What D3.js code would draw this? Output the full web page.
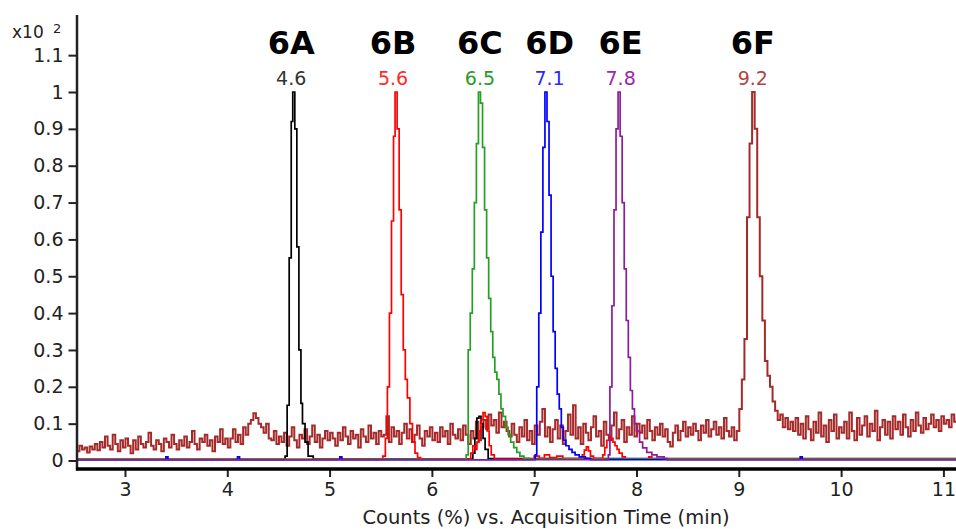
<!DOCTYPE html>
<html><head><meta charset="utf-8">
<script src="https://cdn.jsdelivr.net/npm/d3@7/dist/d3.min.js"></script>
<style>html,body{margin:0;padding:0;background:#fff;overflow:hidden}</style>
</head><body><svg id="c" width="956" height="529"></svg>
<script>
// ---------- data ----------
const xTicks = [3, 4, 5, 6, 7, 8, 9, 10, 11];
const yTicks = [0, 10, 20, 30, 40, 50, 60, 70, 80, 90, 100, 110];
const yTickLabels = ["0", "0.1", "0.2", "0.3", "0.4", "0.5", "0.6", "0.7", "0.8", "0.9", "1", "1.1"];
const xTitle = "Counts (%) vs. Acquisition Time (min)";

// 6F trace (counts %), sampled from 2.53 min every 0.025 min
const brownStart = 2.53, brownStep = 0.025;
const brownValues = [
  2.5, 4.0, 3.0, 3.5, 2.2, 3.8, 3.0, 4.5, 2.8, 5.0, 3.5, 6.5, 4.0, 3.0, 7.0, 4.5, 2.5, 5.5, 3.5, 6.0,
  4.0, 2.0, 5.5, 3.0, 6.5, 4.5, 3.5, 5.0, 7.5, 4.0, 3.0, 5.5, 4.5, 2.5, 6.0, 5.0, 3.5, 7.0, 4.5, 3.0,
  5.5, 4.0, 6.5, 3.5, 5.0, 8.0, 4.5, 3.0, 6.0, 5.0, 7.0, 4.0, 5.5, 2.5, 6.5, 5.0, 8.5, 4.5, 6.0, 3.5,
  6.0, 8.5, 5.0, 7.0, 4.5, 9.0, 7.0, 10.0, 11.0, 12.8, 11.5, 10.0, 9.0, 7.5, 10.0, 6.0, 5.5, 8.0, 4.5, 6.5,
  5.0, 7.5, 4.0, 6.5, 9.0, 5.5, 3.5, 7.0, 6.0, 8.5, 4.5, 6.5, 9.5, 5.0, 7.0, 3.5, 6.0, 8.0, 5.5, 7.5,
  6.0, 4.0, 7.5, 5.5, 9.0, 6.5, 4.5, 8.0, 6.0, 7.0, 3.5, 8.5, 6.5, 5.0, 9.5, 6.0, 7.5, 4.5, 8.0, 6.5,
  7.0, 12.0, 5.0, 9.0, 6.5, 8.0, 4.5, 7.5, 10.0, 6.0, 8.5, 5.0, 7.0, 9.5, 6.0, 4.0, 8.0, 6.5, 9.0, 5.5,
  7.5, 5.0, 9.0, 6.5, 8.0, 4.5, 10.0, 7.0, 6.0, 8.5, 5.5, 9.5, 7.0, 4.5, 8.0, 6.0, 10.5, 5.5, 9.0, 11.0,
  8.5, 12.5, 9.5, 11.0, 7.5, 13.0, 9.0, 10.5, 8.0, 6.5, 10.0, 7.0, 5.0, 9.0, 6.5, 11.0, 5.5, 8.0, 4.5, 9.5,
  7.0, 10.5, 14.0, 6.5, 9.0, 5.0, 8.5, 11.0, 6.0, 9.5, 4.5, 8.0, 12.5, 7.0, 15.0, 6.0, 9.0, 4.5, 10.0, 7.5,
  5.5, 9.0, 12.0, 6.5, 8.0, 4.0, 10.5, 7.0, 5.5, 9.5, 13.0, 6.0, 8.5, 11.0, 5.0, 9.0, 7.0, 12.0, 6.5, 10.0,
  7.5, 9.5, 6.0, 11.0, 8.0, 5.5, 9.0, 7.0, 10.0, 6.5, 8.5, 5.0, 3.8, 7.5, 9.5, 5.5, 8.0, 10.5, 6.5, 9.0,
  7.0, 10.0, 8.0, 5.5, 9.5, 7.5, 11.0, 6.5, 8.5, 10.5, 7.0, 9.0, 6.0, 11.5, 8.0, 6.5, 9.0, 5.5, 8.0, 14.0,
  22, 33, 66, 86, 100, 90, 66, 50, 38, 27, 23, 20, 16, 13.5, 11, 12.5, 9, 11.5, 8.5, 10.5,
  8.0, 11.5, 7.0, 10.0, 6.0, 12.0, 8.5, 5.5, 10.5, 7.5, 13.0, 6.5, 9.5, 5.0, 11.0, 8.0, 12.5, 6.0, 9.0, 7.5,
  10.5, 6.0, 13.0, 8.0, 5.5, 11.5, 7.0, 9.5, 12.0, 6.5, 10.0, 8.0, 13.5, 5.5, 9.0, 11.0, 7.0, 10.5, 6.0, 12.0,
  8.5, 10.5, 7.0, 12.5, 9.0, 6.5, 11.0, 8.0, 13.0, 9.5, 7.5, 11.5, 8.5, 10.0, 12.5, 9.0, 11.0, 8.0, 12.0, 10.0,
  11.0, 9.0, 12.5, 10.5, 11.5
];

// [time (min), counts (%)]
const trace6A = [[2.53,0.3],[4.54,0.3],[4.565,1.2],[4.585,15],[4.605,55],[4.625,92],[4.64,100],[4.66,90],[4.68,58],[4.70,30],[4.72,15.5],[4.735,10],[4.76,5],[4.79,1.2],[4.84,0.4],
  [6.38,0.4],[6.40,2],[6.42,6],[6.44,11.5],[6.46,12],[6.48,10],[6.50,6],[6.52,3],[6.55,0.5],[11.13,0.3]];
const trace6B = [[2.53,0.3],[5.50,0.3],[5.52,1.2],[5.545,6],[5.565,20],[5.585,40],[5.605,65],[5.625,88],[5.64,100],[5.66,90],[5.68,68],[5.70,45],[5.72,30],[5.74,22],[5.76,17],[5.785,10],[5.81,5],[5.835,2],[5.86,0.8],[5.89,0.4],
  [6.36,0.4],[6.38,2],[6.40,4],[6.42,3],[6.44,5],[6.46,8],[6.48,11],[6.50,13],[6.52,12],[6.54,8],[6.56,4],[6.58,1.5],[6.61,0.4],
  [6.98,0.4],[7.0,1.2],[7.05,0.6],[7.10,1.5],[7.15,0.8],[7.22,1.2],[7.28,0.5],
  [7.44,0.5],[7.47,1.5],[7.49,2.8],[7.51,3.7],[7.53,2.6],[7.55,1.2],[7.58,0.6],
  [7.64,0.6],[7.67,1.5],[7.69,3.5],[7.71,5.5],[7.73,6.4],[7.75,6.0],[7.77,5.0],[7.79,4.0],[7.81,3.0],[7.83,2.0],[7.86,1.0],[7.89,0.4],
  [8.10,0.4],[8.12,1.0],[8.15,0.4],[11.13,0.3]];
const trace6C = [[2.53,0.3],[6.30,0.3],[6.335,1.5],[6.355,30],[6.375,40],[6.395,52],[6.415,70],[6.435,86],[6.455,100],[6.475,97],[6.495,85],[6.515,68],[6.535,55],[6.555,44],[6.575,35],[6.595,28],[6.615,24],[6.635,22],[6.655,18],[6.675,14],[6.695,12],[6.72,9],[6.745,7],[6.77,5],[6.80,3.5],[6.83,2.2],[6.86,1.2],[6.90,0.6],[6.95,0.4],[11.13,0.3]];
const trace6D = [[2.53,0.2],[3.40,1.0],[3.42,0.2],[4.10,1.0],[4.12,0.2],[5.10,1.0],[5.12,0.2],[6.98,0.2],[7.01,1.5],[7.025,20],[7.045,40],[7.065,62],[7.085,85],[7.105,100],[7.125,92],[7.145,72],[7.165,50],[7.185,35],[7.205,25],[7.225,18],[7.245,14],[7.265,9],[7.285,5.5],[7.31,4],[7.34,3],[7.37,2.2],[7.40,1.5],[7.44,1],[7.50,0.6],[7.55,0.2],[9.60,1.0],[9.62,0.2],[11.13,0.2]];
const trace6E = [[2.53,0.2],[7.69,0.2],[7.725,1.5],[7.74,20],[7.76,42],[7.78,68],[7.80,90],[7.82,100],[7.84,88],[7.86,70],[7.88,52],[7.90,38],[7.92,28],[7.94,19],[7.96,14],[7.98,10],[8.00,8],[8.03,5],[8.06,3.4],[8.10,2.2],[8.15,1.5],[8.20,1],[8.27,0.5],[8.30,0.2],[11.13,0.2]];

const peakNames = ["6A", "6B", "6C", "6D", "6E", "6F"];
const peakRT = ["4.6", "5.6", "6.5", "7.1", "7.8", "9.2"];
const peakLabelTimes = [4.625, 5.62, 6.47, 7.15, 7.845, 9.137];
const lineColors = ["#000000", "#ff0000", "#259f25", "#0000ff", "#8c1c9c", "#a52a2a"];
const rtColors = ["#333333", "#ff2a2a", "#2a9a2a", "#2a2aff", "#9a2aa8", "#b24444"];

// ---------- chart ----------
const svg = d3.select("#c");
const x = d3.scaleLinear().domain([2.531, 11.123]).range([77, 956]);
const y = d3.scaleLinear().domain([0, 120.9]).range([460.5, 15]);
const FONT = "'DejaVu Sans', Verdana, sans-serif";

svg.append("defs").append("clipPath").attr("id", "plot")
  .append("rect").attr("x", 78).attr("y", 10).attr("width", 880).attr("height", 457);

const brownData = brownValues.map((v, i) => [brownStart + i * brownStep, v]);
const traces = [
  {d: brownData, c: lineColors[5], w: 2},
  {d: trace6A, c: lineColors[0], w: 1.7},
  {d: trace6B, c: lineColors[1], w: 1.7},
  {d: trace6C, c: lineColors[2], w: 1.7},
  {d: trace6D, c: lineColors[3], w: 1.7},
  {d: trace6E, c: lineColors[4], w: 1.7},
];
const line = d3.line().x(d => x(d[0])).y(d => y(d[1])).curve(d3.curveStepAfter);
const g = svg.append("g").attr("clip-path", "url(#plot)");
traces.forEach(t => {
  g.append("path").datum(t.d).attr("d", line)
    .attr("fill", "none").attr("stroke", t.c).attr("stroke-width", t.w)
    .attr("stroke-linejoin", "miter");
});

// axes
const yAxis = d3.axisLeft(y).tickValues(yTicks).tickFormat((d, i) => yTickLabels[i]).tickSize(8.5).tickPadding(5);
const ya = svg.append("g").attr("transform", "translate(77,0)").call(yAxis);
ya.select(".domain").remove();
ya.selectAll(".tick line").attr("stroke", "#222").attr("stroke-width", 2);
ya.selectAll(".tick text").attr("font-family", FONT).attr("font-size", 19).attr("fill", "#222");

const xAxis = d3.axisBottom(x).tickValues(xTicks).tickFormat(d3.format("d")).tickSize(8).tickPadding(6);
const xa = svg.append("g").attr("transform", "translate(0,469)").call(xAxis);
xa.select(".domain").remove();
xa.selectAll(".tick line").attr("stroke", "#222").attr("stroke-width", 2);
xa.selectAll(".tick text").attr("font-family", FONT).attr("font-size", 19).attr("fill", "#222");

svg.append("line").attr("x1", 77).attr("x2", 77).attr("y1", 15).attr("y2", 470.5)
  .attr("stroke", "#222").attr("stroke-width", 2.5);
svg.append("line").attr("x1", 76).attr("x2", 956).attr("y1", 469).attr("y2", 469)
  .attr("stroke", "#000").attr("stroke-width", 3.5);

// multiplier
svg.append("text").attr("x", 12).attr("y", 38).attr("font-family", FONT).attr("font-size", 17)
  .attr("fill", "#222").text("x10");
svg.append("text").attr("x", 53).attr("y", 33).attr("font-family", FONT).attr("font-size", 13)
  .attr("fill", "#222").text("2");

// axis title
svg.append("text").attr("x", 546).attr("y", 524).attr("text-anchor", "middle")
  .attr("font-family", FONT).attr("font-size", 19.5).attr("fill", "#222").text(xTitle);

// peak annotations
peakNames.forEach((n, i) => {
  svg.append("text").attr("x", x(peakLabelTimes[i])).attr("y", 53.5).attr("text-anchor", "middle")
    .attr("font-family", FONT).attr("font-weight", "bold").attr("font-size", 32)
    .attr("fill", "#000").text(n);
  svg.append("text").attr("x", x(peakLabelTimes[i])).attr("y", 84.5).attr("text-anchor", "middle")
    .attr("font-family", FONT).attr("font-size", 19)
    .attr("fill", rtColors[i]).text(peakRT[i]);
});
</script>
</body></html>
